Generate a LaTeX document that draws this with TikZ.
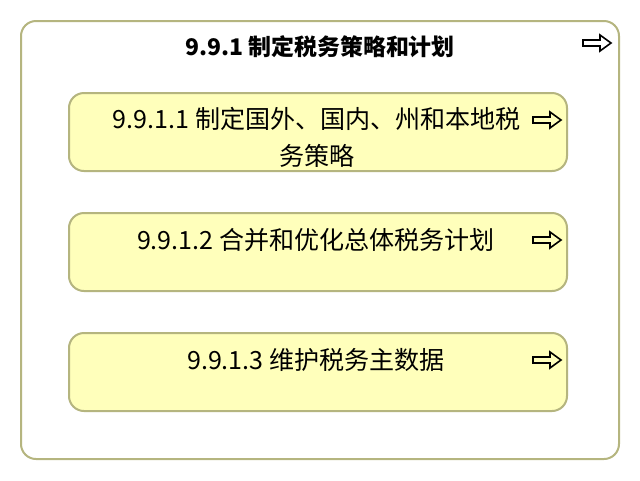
\documentclass[tikz,border=0pt]{standalone}
\usepackage{fontspec}
\setmainfont{Noto Sans CJK SC}
\definecolor{boxfill}{HTML}{FFFFBB}
\definecolor{boxline}{HTML}{B5B57F}
\tikzset{
  outerbox/.style={draw=boxline, line width=1.5pt, fill=white, rounded corners=11.25pt,
    minimum width=448.5pt, minimum height=328.5pt, inner sep=0pt},
  funcbox/.style={draw=boxline, line width=1.5pt, fill=boxfill, rounded corners=11.25pt,
    minimum width=373.5pt, minimum height=58.5pt, inner sep=0pt},
  lbl/.style={inner sep=0pt, align=center, font=\fontsize{18.8pt}{27.75pt}\selectfont},
  titlelbl/.style={inner sep=0pt, align=center, font=\fontsize{17.2pt}{26pt}\selectfont\bfseries},
  hollowarrow/.pic={\draw[line width=1.2pt, line join=miter]
    (-14,-3) -- (3,-3) -- (3,-8) -- (14,0) -- (3,8) -- (3,3) -- (-14,3) -- cycle;}
}
\begin{document}
\begin{tikzpicture}[x=0.75pt,y=-0.75pt]
\useasboundingbox (0,0) rectangle (640,480);
\node[outerbox] (outer) at (320,240) {};
\node[titlelbl] (title) at (320,47) {9.9.1 制定税务策略和计划};
\pic at (597,43) {hollowarrow};

\node[funcbox] (b1) at (318,132) {};
\node[lbl] (t1) at (317,137) {9.9.1.1 制定国外、国内、州和本地税\\务策略};
\pic at (547,120) {hollowarrow};

\node[funcbox] (b2) at (318,252) {};
\node[lbl] (t2) at (316,240) {9.9.1.2 合并和优化总体税务计划};
\pic at (547,240) {hollowarrow};

\node[funcbox] (b3) at (318,372) {};
\node[lbl] (t3) at (316,360) {9.9.1.3 维护税务主数据};
\pic at (547,360) {hollowarrow};
\end{tikzpicture}
\end{document}
